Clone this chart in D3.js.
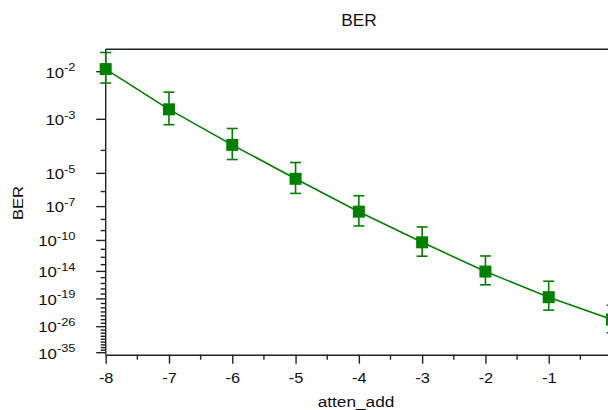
<!DOCTYPE html>
<html>
<head>
<meta charset="utf-8">
<script src="https://cdn.jsdelivr.net/npm/d3@7"></script>
<style>
  html, body { margin: 0; padding: 0; background: #fff; }
  svg { display: block; }
  text { font-family: "Liberation Sans", Arial, sans-serif; fill: #111; }
</style>
</head>
<body>
<svg id="chart" width="608" height="410"></svg>
<script>
// ---- data ----
const attenAdd = [-8, -7, -6, -5, -4, -3, -2, -1, 0];
const berValues = [1.1e-2, 1.8e-3, 1.6e-4, 5.3e-6, 4.2e-8, 6.3e-11, 9.5e-15, 2.3e-19, 1.1e-24];
const berUpper  = [1.9e-2, 4.3e-3, 5.5e-4, 3.2e-5, 5.5e-7, 2.2e-9, 1.5e-12, 2.5e-16, 4.1e-21];
const berLower  = [6.4e-3, 7.1e-4, 4.3e-5, 7.7e-7, 2.7e-9, 1.4e-12, 5.8e-17, 2.8e-22, 1.4e-28];
const yMajorExp = [-2, -3, -5, -7, -10, -14, -19, -26, -35];
const xTicks = [-8, -7, -6, -5, -4, -3, -2, -1, 0];
const titleText = "BER";
const xLabel = "atten_add";
const yLabel = "BER";

(function () {
// ---- BER (Q-factor, log) scale helpers ----
function lnTail(q) {            // ln of 0.5*erfc(q/sqrt2)
  let t = q;
  for (let k = 300; k >= 1; k--) t = q + k / t;
  return -q * q / 2 - 0.5 * Math.log(2 * Math.PI) - Math.log(t);
}
function qOf(ber) {
  const target = Math.log(ber);
  let lo = 0.5, hi = 60;
  for (let i = 0; i < 100; i++) {
    const mid = (lo + hi) / 2;
    if (lnTail(mid) > target) lo = mid; else hi = mid;
  }
  return (lo + hi) / 2;
}
const tf = b => Math.log(qOf(b));

const svg = d3.select("#chart");
const pLeft = 105.7, pRight = 612, pTop = 49.3, pBottom = 354.7;

const x = d3.scaleLinear().domain([-8, 0]).range([pLeft, pRight]);
const yLin = d3.scaleLinear().domain([tf(1e-2), tf(1e-35)]).range([71.7, 352.7]);
const y = b => yLin(tf(b));

const axisColor = "#222";
const green = "#008000";

// frame
svg.append("line").attr("x1", pLeft).attr("x2", pRight + 2).attr("y1", pTop).attr("y2", pTop)
  .attr("stroke", axisColor).attr("stroke-width", 1.4);
svg.append("line").attr("x1", pRight).attr("x2", pRight).attr("y1", pTop).attr("y2", pBottom)
  .attr("stroke", axisColor).attr("stroke-width", 1.4);

// x axis
const xAxis = d3.axisBottom(x).tickValues(xTicks).tickSize(9).tickSizeOuter(0).tickFormat(d => String(d));
const gx = svg.append("g").attr("transform", `translate(0,${pBottom})`).call(xAxis);
gx.select(".domain").attr("stroke", axisColor).attr("stroke-width", 1.4);
gx.selectAll(".tick line").attr("stroke", axisColor).attr("stroke-width", 1.4);
gx.selectAll(".tick text").attr("font-size", 14.5).attr("y", 28.5).attr("dy", 0)
  .attr("transform", "scale(1.13,1)")
  .style("font-family", '"Liberation Sans", Arial, sans-serif').attr("fill", "#111");
const xMinor = d3.range(-7.5, 0, 1);
svg.append("g").selectAll("line").data(xMinor).join("line")
  .attr("x1", d => x(d)).attr("x2", d => x(d)).attr("y1", pBottom).attr("y2", pBottom + 5)
  .attr("stroke", axisColor).attr("stroke-width", 1.4);

// y axis
svg.append("line").attr("x1", pLeft).attr("x2", pLeft).attr("y1", pTop).attr("y2", pBottom)
  .attr("stroke", axisColor).attr("stroke-width", 1.4);
const majorSet = new Set(yMajorExp);
const minorExp = d3.range(-4, -35, -1).filter(e => !majorSet.has(e));
svg.append("g").selectAll("line").data(minorExp).join("line")
  .attr("x1", pLeft - 5).attr("x2", pLeft).attr("y1", e => y(Math.pow(10, e))).attr("y2", e => y(Math.pow(10, e)))
  .attr("stroke", axisColor).attr("stroke-width", 1.4);
svg.append("g").selectAll("line").data(yMajorExp).join("line")
  .attr("x1", pLeft - 9.5).attr("x2", pLeft).attr("y1", e => y(Math.pow(10, e))).attr("y2", e => y(Math.pow(10, e)))
  .attr("stroke", axisColor).attr("stroke-width", 1.4);
const yl = svg.append("g").selectAll("text").data(yMajorExp).join("text")
  .attr("transform", e => `translate(75.5,${y(Math.pow(10, e)) + 5.8}) scale(1.12,1)`)
  .attr("text-anchor", "end").attr("font-size", 15);
yl.append("tspan").text("10");
yl.append("tspan").attr("font-size", 11.5).attr("dy", -6.5).text(e => "-" + Math.abs(e));

// error bars
const eb = svg.append("g").attr("stroke", green).attr("stroke-width", 1.6);
eb.selectAll("line.v").data(attenAdd).join("line").attr("class", "v")
  .attr("x1", d => x(d)).attr("x2", d => x(d))
  .attr("y1", (d, i) => y(berUpper[i])).attr("y2", (d, i) => y(berLower[i]));
eb.selectAll("line.t").data(attenAdd).join("line").attr("class", "t")
  .attr("x1", d => x(d) - 5.5).attr("x2", d => x(d) + 5.5)
  .attr("y1", (d, i) => y(berUpper[i])).attr("y2", (d, i) => y(berUpper[i]));
eb.selectAll("line.b").data(attenAdd).join("line").attr("class", "b")
  .attr("x1", d => x(d) - 5.5).attr("x2", d => x(d) + 5.5)
  .attr("y1", (d, i) => y(berLower[i])).attr("y2", (d, i) => y(berLower[i]));

// line
const line = d3.line().x(d => x(d)).y((d, i) => y(berValues[i]));
svg.append("path").datum(attenAdd).attr("d", line)
  .attr("fill", "none").attr("stroke", green).attr("stroke-width", 1.6);

// markers
svg.append("g").selectAll("rect").data(attenAdd).join("rect")
  .attr("x", d => x(d) - 6).attr("y", (d, i) => y(berValues[i]) - 6)
  .attr("width", 12).attr("height", 12).attr("fill", green);

// titles
svg.append("text").attr("transform", "translate(359,26) scale(1.05,1)").attr("text-anchor", "middle")
  .attr("font-size", 16.5).text(titleText);
svg.append("text").attr("transform", "translate(356,407) scale(1.15,1)").attr("text-anchor", "middle")
  .attr("font-size", 15).text(xLabel);
svg.append("text").attr("transform", "translate(23,203) rotate(-90) scale(1.1,1)").attr("text-anchor", "middle")
  .attr("font-size", 15).text(yLabel);
})();
</script>
</body>
</html>
